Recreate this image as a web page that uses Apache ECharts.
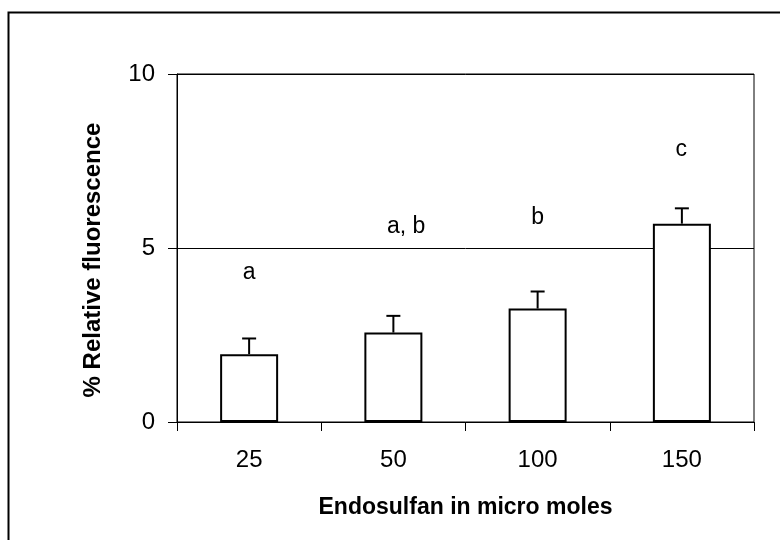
<!DOCTYPE html>
<html>
<head>
<meta charset="utf-8">
<script src="https://cdn.jsdelivr.net/npm/echarts@6/dist/echarts.min.js"></script>
<style>
  html, body { margin: 0; padding: 0; background: #fff; }
  #chart { width: 780px; height: 540px; }
</style>
</head>
<body>
<div id="chart"></div>
<script>
// Endosulfan concentration (micro moles) on the x axis
const categories = ['25', '50', '100', '150'];
// Mean relative fluorescence (%)
const meanValues = [1.95, 2.57, 3.26, 5.70];
// Standard error above each mean
const errorValues = [0.45, 0.48, 0.49, 0.44];
// Significance letters and the height (in % units) where each is written
const groupLetters = ['a', 'a, b', 'b', 'c'];
const letterHeights = [4.29, 5.62, 5.87, 7.82];
// Y axis range
const yMin = 0, yMax = 10, yStep = 5;

const FONT = 'Liberation Sans, Arial, sans-serif';
const chart = echarts.init(document.getElementById('chart'));

chart.setOption({
  backgroundColor: '#fff',
  animation: false,
  graphic: [{
    type: 'rect',
    shape: { x: 8.5, y: 12.5, width: 820, height: 600 },
    style: { fill: 'none', stroke: '#000', lineWidth: 2 },
    silent: true
  }],
  grid: {
    left: 177, right: 26, top: 74, bottom: 118,
    show: true, borderColor: '#000', borderWidth: 1, backgroundColor: 'transparent'
  },
  xAxis: {
    type: 'category',
    data: categories,
    name: 'Endosulfan in micro moles',
    nameLocation: 'middle',
    nameGap: 74,
    nameTextStyle: { fontFamily: FONT, fontSize: 23, fontWeight: 'bold', color: '#000' },
    axisLine: { lineStyle: { color: '#000', width: 1 } },
    axisTick: { show: true, length: 9, alignWithLabel: false, lineStyle: { color: '#000' } },
    axisLabel: { fontFamily: FONT, fontSize: 24, color: '#000', margin: 26 },
    splitLine: { show: false }
  },
  yAxis: {
    type: 'value',
    min: yMin, max: yMax, interval: yStep,
    name: '% Relative fluorescence',
    nameLocation: 'middle',
    nameGap: 72,
    nameTextStyle: { fontFamily: FONT, fontSize: 24, fontWeight: 'bold', color: '#000', padding: [0, 0, 0, -24] },
    axisLine: { show: true, lineStyle: { color: '#000', width: 1 } },
    axisTick: { show: true, length: 9, lineStyle: { color: '#000' } },
    axisLabel: { fontFamily: FONT, fontSize: 24, color: '#000', margin: 22 },
    splitLine: { show: true, lineStyle: { color: '#000', width: 1 } }
  },
  series: [
    {
      type: 'bar',
      data: meanValues,
      barWidth: 58,
      itemStyle: { color: '#fff', borderColor: '#000', borderWidth: 2 },
      z: 2
    },
    {
      // error bars: vertical stem from the mean up to mean + error, with a cap
      type: 'custom',
      z: 3,
      data: meanValues.map((v, i) => [i, v, v + errorValues[i]]),
      renderItem: function (params, api) {
        const base = api.coord([api.value(0), api.value(1)]);
        const top = api.coord([api.value(0), api.value(2)]);
        const half = 7;
        const style = { stroke: '#000', lineWidth: 2, fill: 'none' };
        return {
          type: 'group',
          children: [
            { type: 'line', shape: { x1: base[0], y1: base[1], x2: top[0], y2: top[1] }, style: style },
            { type: 'line', shape: { x1: top[0] - half, y1: top[1], x2: top[0] + half, y2: top[1] }, style: style }
          ]
        };
      }
    },
    {
      // significance letters; the first letter sits centred over its bar
      type: 'custom',
      z: 4,
      data: groupLetters.map((t, i) => [i, letterHeights[i]]),
      renderItem: function (params, api) {
        const p = api.coord([api.value(0), api.value(1)]);
        const fs = 23;
        return {
          type: 'text',
          x: p[0] - fs * 0.278,
          y: p[1],
          style: {
            text: groupLetters[params.dataIndex],
            fontFamily: FONT,
            fontSize: fs,
            fill: '#000',
            align: 'left',
            verticalAlign: 'middle'
          }
        };
      }
    }
  ]
});
</script>
</body>
</html>
